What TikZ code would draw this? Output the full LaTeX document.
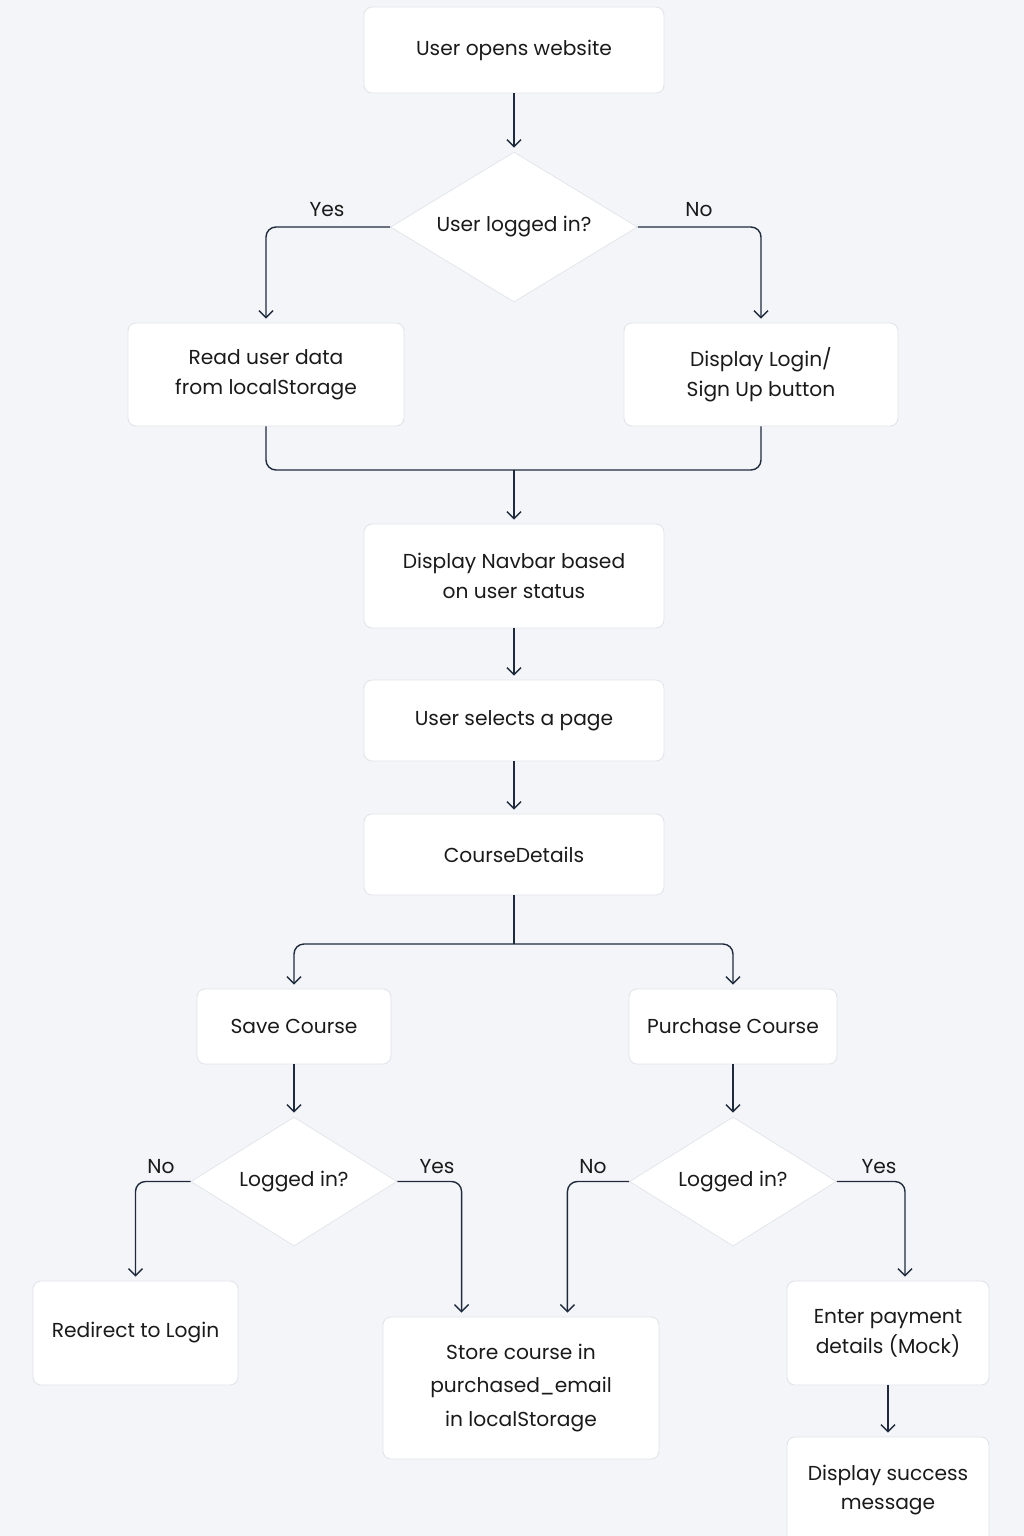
\documentclass[tikz,border=0pt]{standalone}
\usepackage{fontspec}
\setmainfont{Poppins}
\usetikzlibrary{shapes.geometric,arrows.meta}
\definecolor{bgcol}{HTML}{F4F5F8}
\definecolor{edgecol}{HTML}{E1E4EA}
\definecolor{linecol}{HTML}{1F2B3D}
\definecolor{txtcol}{HTML}{1A1A1A}
\newcommand{\flowfont}{\fontsize{11.5}{17}\selectfont}

\begin{document}
\begin{tikzpicture}[x=0.02cm, y=-0.02cm,
        box/.style = {draw=edgecol, line width=0.5pt, fill=white, rounded corners=0.16cm,
            align=center, text=txtcol, font=\flowfont, inner sep=0pt},
        choice/.style = {diamond, aspect=1.6, draw=edgecol, line width=0.4pt, fill=white,
            inner sep=0pt, text=txtcol, font=\flowfont},
        lbl/.style = {text=txtcol, font=\flowfont},
        link/.style = {draw=linecol, line width=0.8pt, rounded corners=0.2cm},
        flow/.style = {link, shorten >=0.08cm, -{Straight Barb[length=4pt,width=8pt]}}]
    \fill[bgcol] (0,0) rectangle (1024,1536);
    \useasboundingbox (0,0) rectangle (1024,1536);

    \node[box, minimum width=6cm, minimum height=1.72cm] (start) at (514,50) {User opens website};
    \node[choice, minimum width=4.94cm, minimum height=3cm] (q1) at (514,227) {User logged in?};
    \node[box, minimum width=5.52cm, minimum height=2.06cm] (read) at (266,374.5) {Read user data\\from localStorage};
    \node[box, minimum width=5.48cm, minimum height=2.06cm] (login) at (761,374.5) {Display Login/\\Sign Up button};
    \node[box, minimum width=6cm, minimum height=2.08cm] (nav) at (514,576) {Display Navbar based\\on user status};
    \node[box, minimum width=6cm, minimum height=1.62cm] (select) at (514,720.5) {User selects a page};
    \node[box, minimum width=6cm, minimum height=1.62cm] (cd) at (514,854.5) {CourseDetails};
    \node[box, minimum width=3.88cm, minimum height=1.5cm] (save) at (294,1026.5) {Save Course};
    \node[box, minimum width=4.16cm, minimum height=1.5cm] (purchase) at (733,1026.5) {Purchase Course};
    \node[choice, minimum width=4.12cm, minimum height=2.58cm] (q2) at (294,1181.5) {Logged in?};
    \node[choice, minimum width=4.14cm, minimum height=2.58cm] (q3) at (733,1181.5) {Logged in?};
    \node[box, minimum width=4.1cm, minimum height=2.08cm] (redirect) at (135.5,1333) {Redirect to Login};
    \node[box, minimum width=5.52cm, minimum height=2.84cm, font=\fontsize{11.5}{19}\selectfont] (store) at (521,1388) {Store course in\\purchased\_email\\in localStorage};
    \node[box, minimum width=4.04cm, minimum height=2.08cm] (pay) at (888,1333) {Enter payment\\details (Mock)};
    \node[box, minimum width=4.04cm, minimum height=2.12cm] (success) at (888,1490) {Display success\\message};

    \node[lbl] (yes1) at (327,210) {Yes};
    \node[lbl] (no1) at (699,210) {No};
    \node[lbl] (no2) at (161,1167) {No};
    \node[lbl] (yes2) at (437,1167) {Yes};
    \node[lbl] (no3) at (593,1167) {No};
    \node[lbl] (yes3) at (879,1167) {Yes};

    \coordinate (join) at (514,470);
    \coordinate (fork) at (514,944);

    \draw[flow] (start.south) -- (q1.north);
    \draw[flow] (q1.west) -| (read.north);
    \draw[flow] (q1.east) -| (login.north);
    \draw[link] (read.south) |- (join) -| (login.south);
    \draw[flow] (join) -- (nav.north);
    \draw[flow] (nav.south) -- (select.north);
    \draw[flow] (select.south) -- (cd.north);
    \draw[link] (cd.south) -- (fork);
    \draw[flow] (fork) -| (save.north);
    \draw[flow] (fork) -| (purchase.north);
    \draw[flow] (save.south) -- (q2.north);
    \draw[flow] (q2.west) -| (redirect.north);
    \draw[flow] (q2.east) -| ([xshift=1.58cm]store.north west);
    \draw[flow] (purchase.south) -- (q3.north);
    \draw[flow] (q3.west) -| ([xshift=-1.84cm]store.north east);
    \draw[flow] (q3.east) -| ([xshift=0.34cm]pay.north);
    \draw[flow] (pay.south) -- (success.north);
\end{tikzpicture}
\end{document}
